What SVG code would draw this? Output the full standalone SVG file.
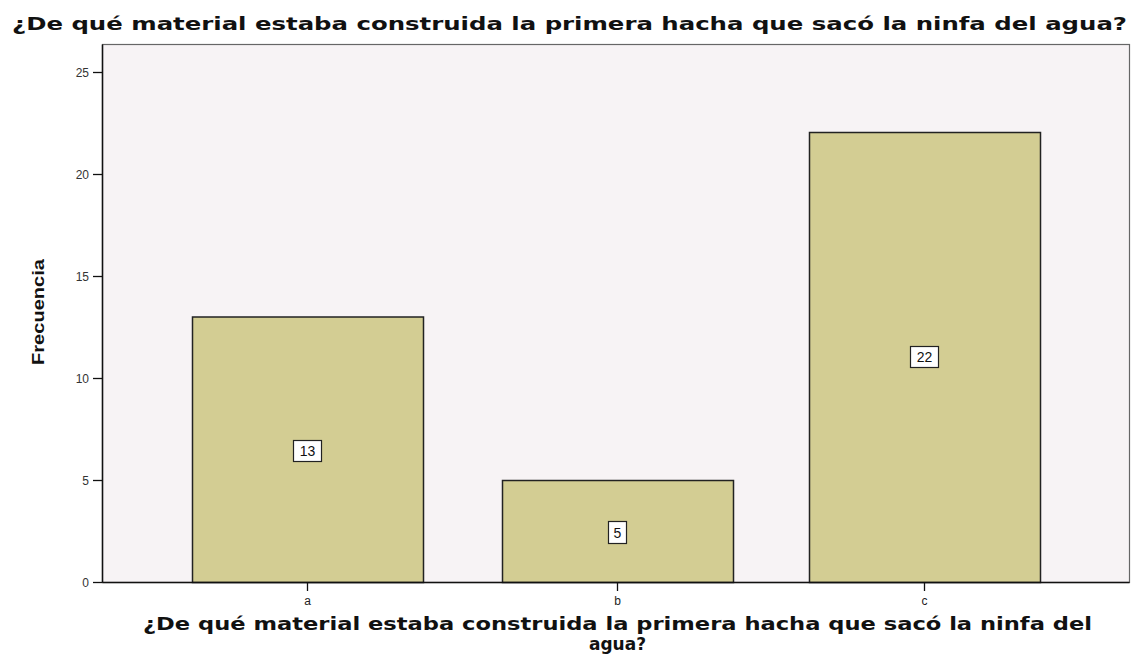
<svg xmlns="http://www.w3.org/2000/svg" width="1132" height="664" viewBox="0 0 1132 664">
<style>
.title{font-family:"DejaVu Sans","Liberation Sans",sans-serif;font-weight:bold;font-size:17px;fill:#111}
.ylab{font-family:"Liberation Sans",Arial,sans-serif;font-weight:bold;font-size:17px;fill:#111}
.tick{font-family:"Liberation Sans",Arial,sans-serif;font-size:12px;fill:#333}
.cat{font-family:"Liberation Sans",Arial,sans-serif;font-size:12px;fill:#222}
.bar{fill:#D3CD93;stroke:#222;stroke-width:1.5}
.vbox{fill:#FFFFFF;stroke:#222;stroke-width:1.2}
.val{font-family:"Liberation Sans",Arial,sans-serif;font-size:14px;fill:#111}
.axis{stroke:#111;stroke-width:1.5;fill:none}
</style>
<rect width="1132" height="664" fill="#FFFFFF"/>
<text class="title" x="12" y="30" textLength="1115" lengthAdjust="spacingAndGlyphs">¿De qué material estaba construida la primera hacha que sacó la ninfa del agua?</text>
<g id="plot-area">
<rect x="102.5" y="44.5" width="1027" height="538" fill="#F7F3F5" stroke="#666" stroke-width="1.2"/>
</g>
<g id="y-axis">
<line class="axis" x1="102.5" y1="44.5" x2="102.5" y2="582.5"/>
<g stroke="#111" stroke-width="1.3">
<line x1="93" y1="582.5" x2="102.5" y2="582.5"/>
<line x1="93" y1="480.5" x2="102.5" y2="480.5"/>
<line x1="93" y1="378.5" x2="102.5" y2="378.5"/>
<line x1="93" y1="276.5" x2="102.5" y2="276.5"/>
<line x1="93" y1="174.5" x2="102.5" y2="174.5"/>
<line x1="93" y1="72.5" x2="102.5" y2="72.5"/>
</g>
<g text-anchor="end">
<text class="tick" x="89" y="587">0</text>
<text class="tick" x="89" y="485">5</text>
<text class="tick" x="89" y="383">10</text>
<text class="tick" x="89" y="281">15</text>
<text class="tick" x="89" y="179">20</text>
<text class="tick" x="89" y="77">25</text>
</g>
<text class="ylab" transform="translate(44,312) rotate(-90)" text-anchor="middle" textLength="106" lengthAdjust="spacingAndGlyphs">Frecuencia</text>
</g>
<g id="bar-a">
<rect class="bar" x="192.5" y="317" width="231" height="265.5"/>
<rect class="vbox" x="293.5" y="440.5" width="28" height="21"/>
<text class="val" x="307.5" y="456" text-anchor="middle">13</text>
</g>
<g id="bar-b">
<rect class="bar" x="502.5" y="480.5" width="231" height="102"/>
<rect class="vbox" x="608.5" y="521.5" width="18" height="22"/>
<text class="val" x="617.5" y="537.5" text-anchor="middle">5</text>
</g>
<g id="bar-c">
<rect class="bar" x="809.5" y="132.5" width="231" height="450"/>
<rect class="vbox" x="910.5" y="346.5" width="28" height="21"/>
<text class="val" x="924.5" y="362" text-anchor="middle">22</text>
</g>
<g id="x-axis">
<line class="axis" x1="102.5" y1="582.5" x2="1129.5" y2="582.5"/>
<g stroke="#111" stroke-width="1.3">
<line x1="307.5" y1="582.5" x2="307.5" y2="591"/>
<line x1="617.5" y1="582.5" x2="617.5" y2="591"/>
<line x1="924.5" y1="582.5" x2="924.5" y2="591"/>
</g>
<g text-anchor="middle">
<text class="cat" x="307.5" y="605">a</text>
<text class="cat" x="617.5" y="605">b</text>
<text class="cat" x="924.5" y="605">c</text>
</g>
<text class="title" x="143" y="630" textLength="949" lengthAdjust="spacingAndGlyphs">¿De qué material estaba construida la primera hacha que sacó la ninfa del</text>
<text class="title" x="617.5" y="650" text-anchor="middle">agua?</text>
</g>
</svg>
